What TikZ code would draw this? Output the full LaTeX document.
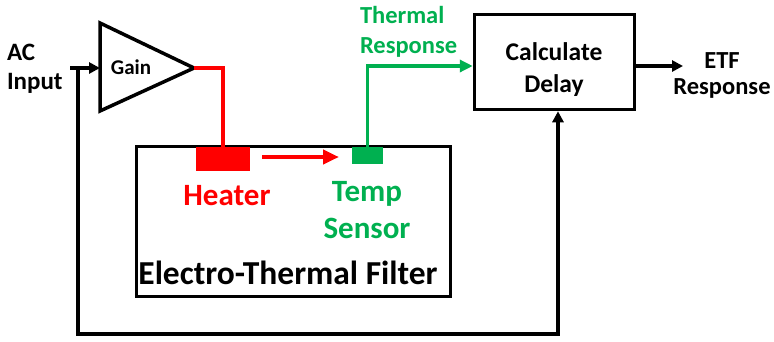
\documentclass[tikz,border=0pt]{standalone}
\usepackage{fontspec}
\setmainfont{Carlito}
\usetikzlibrary{arrows.meta}
\definecolor{offgreen}{RGB}{0,176,80}
\definecolor{offred}{RGB}{255,0,0}
\begin{document}
\begin{tikzpicture}[x=1pt,y=-1pt,line width=3.5pt,
  fsA/.style={font=\bfseries\fontsize{25}{29}\selectfont},
  fsB/.style={font=\bfseries\fontsize{31}{37}\selectfont},
  txt/.style={inner sep=0pt,outer sep=0pt,anchor=base},
  blockbox/.style={draw=black,line width=3.5pt,inner sep=0pt},
  blkarrow/.style={draw=black,line width=3.5pt,-{Triangle[length=11pt,width=11pt]}},
  grnarrow/.style={draw=offgreen,line width=3.5pt,-{Triangle[length=13pt,width=12pt]}},
  redarrow/.style={draw=offred,line width=4pt,-{Triangle[length=16pt,width=14pt]}},
  redline/.style={draw=offred,line width=4pt},
  pad/.style={inner sep=0pt,outer sep=0pt,draw=none}
]
\useasboundingbox (0,0) rectangle (774,341);

% amplifier
\coordinate (gtop) at (100,23);
\coordinate (gbot) at (100,111);
\coordinate (gtip) at (194,68);
\coordinate (gin) at (100,68);
\draw[line width=3.5pt,line join=miter] (gtop) -- (gtip) -- (gbot) -- cycle;
\node[txt,font=\bfseries\fontsize{21}{25}\selectfont] (gain) at (131,74) {Gain};

% Calculate delay block
\node[blockbox,minimum width=160pt,minimum height=95pt] (cd) at (554.5,62) {};
\node[txt,font=\bfseries\fontsize{25.5}{32}\selectfont,align=center] (cdtxt) at (554,92) {Calculate\\Delay};

% Electro-thermal filter block
\node[blockbox,minimum width=314pt,minimum height=150pt] (etf) at (293.5,221.5) {};
\node[txt,font=\bfseries\fontsize{33.5}{38}\selectfont] (etftxt) at (288,284) {Electro-Thermal Filter};

% heater and sensor
\node[pad,fill=offred,minimum width=54pt,minimum height=24pt] (heater) at (223,159) {};
\node[pad,fill=offgreen,minimum width=31pt,minimum height=17pt] (sensor) at (367.5,155.5) {};
\node[txt,fsB,text=offred] (heatertxt) at (227,205) {Heater};
\node[txt,fsB,text=offgreen,align=center] (sensortxt) at (367,238) {Temp\\Sensor};

% labels
\node[txt,font=\bfseries\fontsize{25}{29}\selectfont,align=left,anchor=base west] (actxt) at (7,89) {AC\\Input};
\node[txt,font=\bfseries\fontsize{24.5}{30}\selectfont,text=offgreen,align=left,anchor=base west] (thtxt) at (360,53) {Thermal\\Response};
\node[txt,font=\bfseries\fontsize{24.5}{26}\selectfont,align=center] (outtxt) at (722,94) {ETF\\Response};

% connectors
\coordinate (acin) at (70,68);
\coordinate (fb) at (78,68);
\coordinate (fbc) at (558,334);
\coordinate (etfout) at (683,66);

\draw[blkarrow] (acin) -- (gin);
\draw[blkarrow] (fb) |- (fbc) -- (fbc |- cd.south);
\draw[redline] (gtip) -| (heater.north);
\draw[redarrow] ([xshift=12pt,yshift=2pt]heater.east) -- ([xshift=-13pt,yshift=-1.5pt]sensor.west);
\draw[grnarrow] (sensor.north) |- ([yshift=-4pt]cd.west);
\draw[blkarrow] ([yshift=-4pt]cd.east) -- (etfout);
\end{tikzpicture}
\end{document}
